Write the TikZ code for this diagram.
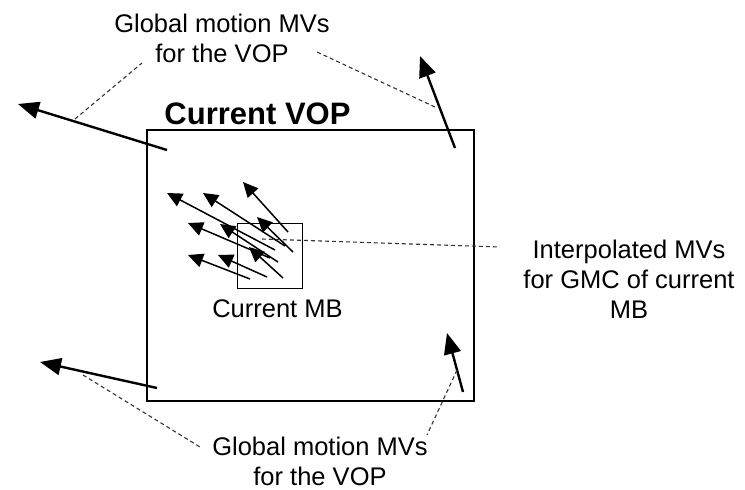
\documentclass[tikz,border=0pt]{standalone}
\usepackage{fontspec}
\setmainfont{Liberation Sans}
\usetikzlibrary{arrows.meta}
\begin{document}
\begin{tikzpicture}[x=1pt,y=-1pt,
  lbl/.style={font=\fontsize{25.5}{30}\selectfont, align=center, inner sep=0pt},
  bigvec/.style={line width=2.4pt, -{Triangle[length=21pt,width=17pt]}},
  smallvec/.style={line width=1.5pt, -{Triangle[length=15pt,width=14pt]}},
  leader/.style={black!80, line width=1.1pt, dash pattern=on 4pt off 3pt},
]
\useasboundingbox (0,0) rectangle (745,490);

% current VOP and current macroblock
\node[draw, line width=2pt, minimum width=327pt, minimum height=271pt,
      inner sep=0pt, anchor=north west] (vop) at (146,129) {};
\node[draw, line width=1.2pt, minimum width=65pt, minimum height=65pt,
      inner sep=0pt, anchor=north west] (mb) at (237,223) {};

% labels (base anchor sits on the last line)
\node[font=\bfseries\fontsize{31}{36}\selectfont, inner sep=0pt, anchor=base]
  (title) at (257.5,124) {Current VOP};
\node[lbl, anchor=base] (mblbl) at (277.5,317) {Current MB};
\node[lbl, anchor=base] (toplbl) at (222,62) {Global motion MVs\\for the VOP};
\node[lbl, anchor=base] (botlbl) at (320,485) {Global motion MVs\\for the VOP};
\node[lbl, anchor=base] (rgtlbl) at (629,318) {Interpolated MVs\\for GMC of current\\MB};

% global motion vectors at the VOP corners
\coordinate (tl0) at (167,150); \coordinate (tl1) at (18,104);
\coordinate (tr0) at (455,148); \coordinate (tr1) at (420,56);
\coordinate (bl0) at (157,388); \coordinate (bl1) at (40,362);
\coordinate (br0) at (463,392); \coordinate (br1) at (447,333);
\draw[bigvec] (tl0) -- (tl1);
\draw[bigvec] (tr0) -- (tr1);
\draw[bigvec] (bl0) -- (bl1);
\draw[bigvec] (br0) -- (br1);

% interpolated vectors of the macroblock
\foreach \tx/\ty/\hx/\hy in {
  275/250/167/193, 285/246/203/193, 288/232/243/182,
  270/258/188/223, 278/262/220/224, 293/252/257/217,
  250/279/188/255, 267/277/218/255, 283/278/249/247}
  \draw[smallvec] (\tx,\ty) -- (\hx,\hy);

% leader lines
\coordinate (ltl) at (75,119);  \coordinate (ltl2) at (142,63);
\coordinate (ltr) at (435,107); \coordinate (ltr2) at (317,52);
\coordinate (lbl1) at (83,375); \coordinate (lbl2) at (200,447);
\coordinate (lbr) at (457,370); \coordinate (lbr2) at (427,435);
\coordinate (lmb) at (262,239); \coordinate (lmb2) at (500,247);
\draw[leader] (ltl) -- (ltl2);
\draw[leader] (ltr) -- (ltr2);
\draw[leader] (lbl1) -- (lbl2);
\draw[leader] (lbr) -- (lbr2);
\draw[leader] (lmb) -- (lmb2);
\end{tikzpicture}
\end{document}
